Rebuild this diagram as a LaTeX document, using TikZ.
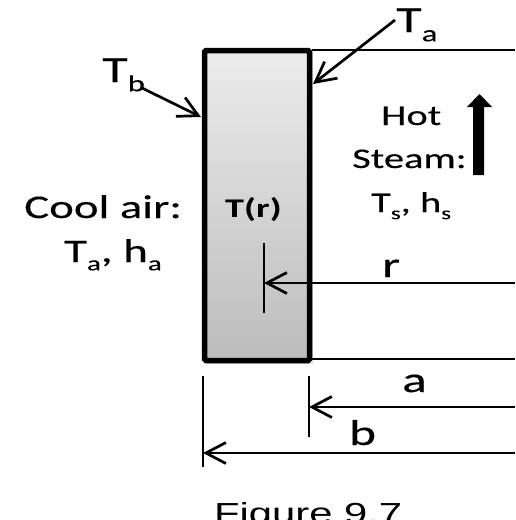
\documentclass[tikz,border=0pt]{standalone}
\usepackage{fontspec}
\setmainfont{Carlito}[FakeStretch=1.42,UprightFeatures={FakeBold=0.3}]
\newfontfamily\figfont{Liberation Sans}[FakeStretch=1.44]
\usetikzlibrary{arrows.meta}
\newcommand\mysub[1]{\raisebox{-0.25em}{\scalebox{0.62}{#1}}}
\newcommand\fs[1]{\fontsize{#1}{#1}\selectfont}
\begin{document}
\begin{tikzpicture}[x=1pt,y=-1pt,
  lbl/.style={inner sep=0pt,anchor=base west},
  dimline/.style={line width=2.7pt,-{Straight Barb[length=20pt,width=21pt,line width=2.7pt]}},
  tickline/.style={line width=2.4pt},
  edgeline/.style={line width=1.8pt}]
\useasboundingbox (0,0) rectangle (515,520);
% wall with faint shadow
\fill[black!12] (206.5,53) rectangle (312.5,364);
\shade[top color={rgb,255:red,236;green,236;blue,236},bottom color={rgb,255:red,188;green,188;blue,188}]
  (204.5,50.5) rectangle (309.5,360.5);
\draw[line width=5.5pt,rounded corners=1.5pt] (204.5,50.5) rectangle (309.5,360.5);
\coordinate (wallTR) at (312,50);
\coordinate (wallBR) at (312,359);
\coordinate (farTop) at (515,50);
\coordinate (farBot) at (515,359);
\draw[edgeline] (wallTR) -- (farTop);
\draw[edgeline] (wallBR) -- (farBot);
% texts
\node[lbl,font=\fs{27}\bfseries] (Tr) at (225,217) {T(r)};
\node[lbl,font=\fs{33}] (cool) at (24,218) {Cool air:};
\node[lbl,font=\fs{33}] (coolp) at (64,262) {T\mysub{a}, h\mysub{a}};
\node[lbl,font=\fs{28.5}] (hot) at (381,125) {Hot};
\node[lbl,font=\fs{28.5}] (steam) at (352,168) {Steam:};
\node[lbl,font=\fs{28.5}] (steamp) at (371,212) {T\mysub{s}, h\mysub{s}};
\node[lbl,font=\fs{37}] (Tb) at (102,82) {T\mysub{b}};
\node[lbl,font=\fs{37}] (Ta) at (396,32) {T\mysub{a}};
\node[lbl,font=\fs{36}] (rl) at (382,277) {r};
\node[lbl,font=\fs{36}] (al) at (402,392) {a};
\node[lbl,font=\fs{36}] (bl) at (349,445) {b};
\node[lbl,font=\figfont\fs{29}] (fig) at (214,523) {Figure 9.7};
% pointer arrows
\coordinate (TbS) at (142,88);
\coordinate (TbE) at (201,117);
\coordinate (TaS) at (395,20);
\coordinate (TaE) at (313,84);
\draw[dimline] (TbS) -- (TbE);
\draw[dimline] (TaS) -- (TaE);
% steam arrow
\fill (473,175) -- (473,107) -- (467,107) -- (479.5,94) -- (492,107) -- (484,107) -- (484,175) -- cycle;
% r dimension
\coordinate (rS) at (515,283);
\coordinate (rE) at (264,283);
\draw[tickline] (264,243) -- (264,313);
\draw[dimline] (rS) -- (rE);
% a dimension
\coordinate (aS) at (515,407);
\coordinate (aE) at (309,407);
\draw[tickline] (309,376) -- (309,437);
\draw[dimline] (aS) -- (aE);
% b dimension
\coordinate (bS) at (515,453);
\coordinate (bE) at (203,453);
\draw[tickline] (203,376) -- (203,467);
\draw[dimline] (bS) -- (bE);
\end{tikzpicture}
\end{document}
